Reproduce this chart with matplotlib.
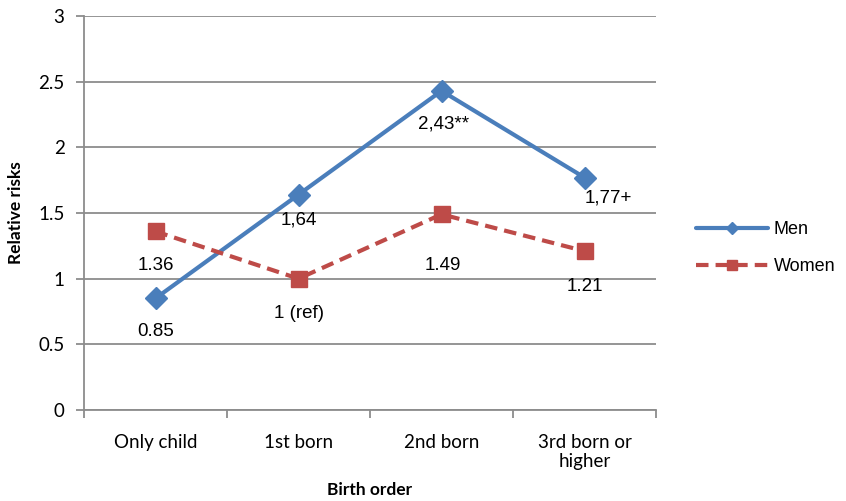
import matplotlib.pyplot as plt
from matplotlib.ticker import MultipleLocator

# data
categories = ["Only child", "1st born", "2nd born", "3rd born or\nhigher"]
men = [0.85, 1.64, 2.43, 1.77]
women = [1.36, 1.0, 1.49, 1.21]
men_labels = ["0.85", "1,64", "2,43**", "1,77+"]
women_labels = ["1.36", "1 (ref)", "1.49", "1.21"]

# label offsets in pixels (dx, dy)
men_off = [(0, -33), (0, -25), (2, -33), (24, -20)]
women_off = [(0, -34), (0, -35), (1, -51), (0, -35)]

blue = "#4A7EBB"
red = "#BE4B48"
grid = "#8C8C8C"

fig = plt.figure(figsize=(8.46, 5.01), dpi=100)
ax = fig.add_axes([84 / 846, 91 / 501, 572 / 846, 394 / 501])

x = list(range(len(categories)))
ax.plot(x, men, color=blue, lw=3, marker="D", ms=11, label="Men",
        solid_capstyle="round", zorder=3)
ax.plot(x, women, color=red, lw=3, ls=(0, (3, 1.7)), marker="s", ms=12,
        label="Women", zorder=3)

for i in x:
    ax.annotate(men_labels[i], (i, men[i]), xytext=men_off[i],
                textcoords="offset pixels", ha="center", va="center",
                fontsize=13.5, family="Liberation Sans")
    ax.annotate(women_labels[i], (i, women[i]), xytext=women_off[i],
                textcoords="offset pixels", ha="center", va="center",
                fontsize=13.5, family="Liberation Sans")

ax.set_xlim(-0.5, 3.5)
ax.set_ylim(0, 3)
ax.yaxis.set_major_locator(MultipleLocator(0.5))
ax.yaxis.set_major_formatter(plt.FuncFormatter(lambda v, p: f"{v:g}"))
ax.grid(axis="y", color=grid, lw=1.3)
ax.set_axisbelow(True)

# category labels between tick marks
ax.set_xticks([-0.5, 0.5, 1.5, 2.5, 3.5])
ax.set_xticklabels([])
ax.set_xticks(x, minor=True)
ax.set_xticklabels(categories, minor=True, family="Lato", fontsize=13.5)
ax.tick_params(axis="x", which="minor", length=0, pad=17)
ax.tick_params(axis="x", which="major", length=6, color=grid, width=1.3)
ax.tick_params(axis="y", length=6, color=grid, width=1.3, pad=8)
for lab in ax.get_yticklabels():
    lab.set_family("Lato")
    lab.set_fontsize(13.5)

for s in ["top", "right"]:
    ax.spines[s].set_visible(False)
for s in ["left", "bottom"]:
    ax.spines[s].set_color(grid)
    ax.spines[s].set_linewidth(1.3)

ax.set_xlabel("Birth order", family="Lato", fontweight="bold", fontsize=12.5, labelpad=8)
ax.set_ylabel("Relative risks", family="Lato", fontweight="bold", fontsize=12.5, labelpad=10)

leg = fig.legend(loc="center left", bbox_to_anchor=(680 / 846, 1 - 248 / 501),
                 frameon=False, prop={"family": "Liberation Sans", "size": 13},
                 handlelength=4.0, labelspacing=1.1, handletextpad=0.3, markerscale=0.6)

fig.savefig("out.png", dpi=100)
